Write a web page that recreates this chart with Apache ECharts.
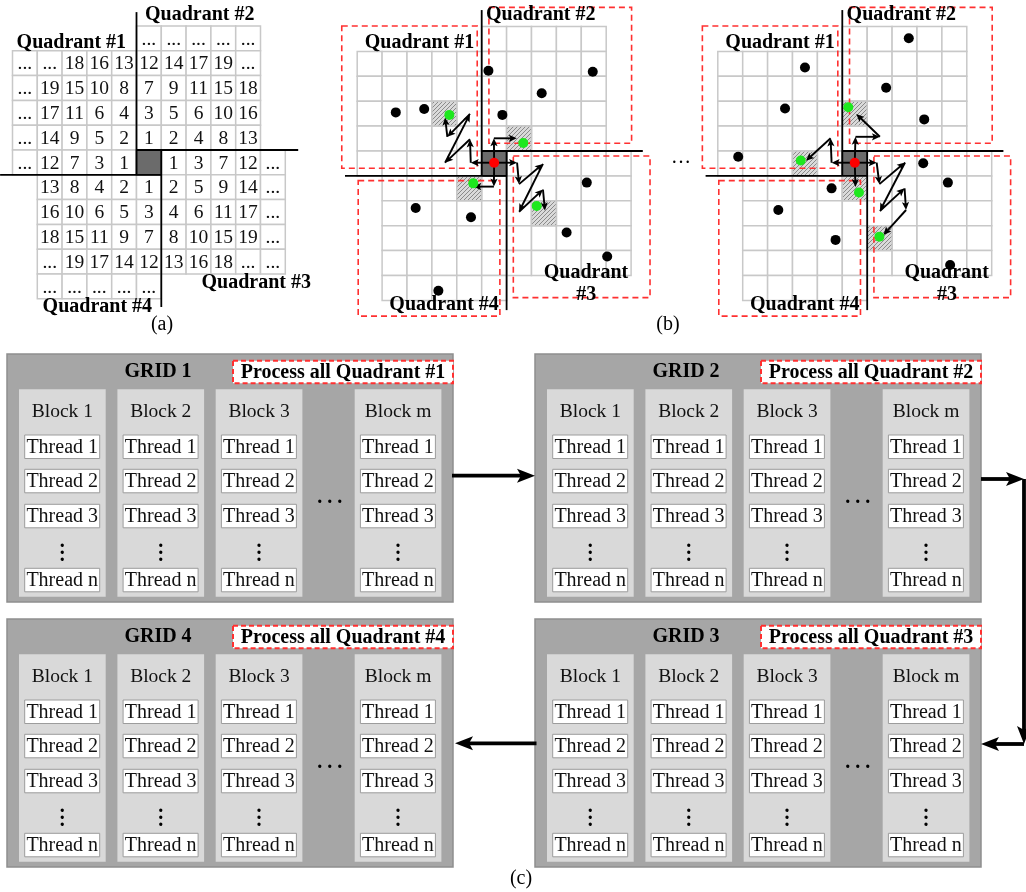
<!DOCTYPE html>
<html><head><meta charset="utf-8">
<script src="https://cdn.jsdelivr.net/npm/echarts@6/dist/echarts.min.js"></script>
<style>html,body{margin:0;padding:0;background:#fff}#c{width:1026px;height:892px}</style>
</head><body><div id="c"></div>
<script>
// ---------------- DATA ----------------
// Panel (a): visiting order numbers, [row, first column, labels]
const A_ROWS = [
  [-5, 0, ['...','...','...','...','...']],
  [-4, -5, ['...','...',18,16,13,12,14,17,19,'...']],
  [-3, -5, ['...',19,15,10,8,7,9,11,15,18]],
  [-2, -5, ['...',17,11,6,4,3,5,6,10,16]],
  [-1, -5, ['...',14,9,5,2,1,2,4,8,13]],
  [0, -5, ['...',12,7,3,1]],
  [0, 1, [1,3,7,12,'...']],
  [1, -4, [13,8,4,2,1,2,5,9,14,'...']],
  [2, -4, [16,10,6,5,3,4,6,11,17,'...']],
  [3, -4, [18,15,11,9,7,8,10,15,19,'...']],
  [4, -4, ['...',19,17,14,12,13,16,18,'...','...']],
  [5, -4, ['...','...','...','...','...']]
];
// Quadrant cell ranges (columns, rows), relative to the centre cell
const QUADRANTS = [
  {cols:[-5,-1], rows:[-4,0]},
  {cols:[0,4],   rows:[-5,-1]},
  {cols:[1,5],   rows:[0,4]},
  {cols:[-4,0],  rows:[1,5]}
];
// Panel (b) points in cell units
const B_LEFT_BLACK = [[0.27,-3.22],[4.46,-3.18],[2.41,-2.32],[0.83,-1.45],[-3.45,-1.55],[-2.31,-1.69],
  [4.22,1.27],[-2.65,2.29],[-0.43,2.66],[3.41,3.27],[5.04,4.24],[-1.74,5.61]];
const B_LEFT_GREEN = [[-1.30,-1.45],[1.67,-0.32],[-0.34,1.30],[2.21,2.21]];
const B_LEFT_HATCH = [[-2,-2],[1,-1],[-1,1],[2,2]];
const B_LEFT_PATHS = [
  [[0.5,0.47],[-0.44,0.47],[-0.47,-0.47],[-1.47,0.47],[-0.47,-1.49],[-1.38,-0.57],[-1.47,-1.35]],
  [[0.5,0.47],[0.49,-0.51],[1.41,-0.51]],
  [[0.5,0.47],[0.49,1.43],[-0.34,1.43]],
  [[0.5,0.47],[1.42,0.47],[1.5,1.33],[2.46,0.52],[1.5,2.44],[2.46,1.55],[2.54,2.39]]
];
const B_RIGHT_BLACK = [[2.67,-4.53],[-1.50,-3.35],[1.76,-2.54],[-2.30,-1.71],[3.29,-1.27],[-4.18,0.23],
  [3.25,0.49],[4.24,1.27],[-0.43,1.50],[-2.57,2.37],[-0.27,3.57],[4.33,4.58]];
const B_RIGHT_GREEN = [[0.24,-1.76],[-1.67,0.38],[0.67,1.67],[1.49,3.44]];
const B_RIGHT_HATCH = [[0,-2],[-2,0],[0,1],[1,3]];
const B_RIGHT_PATHS = [
  [[0.5,0.47],[-0.43,0.47],[-0.47,-0.51],[-1.46,0.39]],
  [[0.5,0.47],[0.53,-0.57],[1.51,-0.57],[0.56,-1.49]],
  [[0.5,0.47],[0.53,1.45]],
  [[0.5,0.47],[1.38,0.47],[1.49,1.33],[2.52,0.46],[1.51,2.41],[2.5,1.5],[2.56,2.37],[1.65,3.37]]
];
const CENTER_POINT = [[0.5,0.47]];
// Panel (c)
const GRID_NAMES = ['GRID 1','GRID 2','GRID 3','GRID 4'];
const GRID_TASKS = ['Process all Quadrant #1','Process all Quadrant #2','Process all Quadrant #3','Process all Quadrant #4'];
const BLOCKS = ['Block 1','Block 2','Block 3','Block m'];
const THREADS = ['Thread 1','Thread 2','Thread 3','Thread n'];

// ---------------- LAYOUT / STYLE ----------------
const SERIF = '"Liberation Serif","Times New Roman",serif';
const A_AXES = [[[0,-5.56],[0,1]],[[1,0],[1,6.33]],[[0,0],[6.52,0]],[[-5.5,1],[1,1]]];
const B_AXES = [[[0,-5.66],[0,1]],[[1,0],[1,6.39]],[[0,0],[6.47,0]],[[-5.49,1],[1,1]]];
const B_BOXES = [[-5.62,-5.02,-0.18,0.69],[0.29,-5.77,6.02,-0.31],[1.27,0.2,6.76,5.89],[-4.96,1.19,0.73,6.63]];
const A_LABELS = [['Quadrant #1',-0.42,-4.33,'right'],['Quadrant #2',2.55,-5.44,'center'],
  ['Quadrant #3',4.83,5.36,'center'],['Quadrant #4',-1.58,6.33,'center']];
const B_LABELS = [['Quadrant #1',-2.5,-4.36,'center'],['Quadrant #2',2.37,-5.45,'center'],
  ['Quadrant',4.19,4.89,'center'],['#3',4.2,5.78,'center'],['Quadrant #4',-1.51,6.18,'center']];
const GRID_POS = [[7,354],[535,354],[535,619],[7,619]];
const BOX_W = 446, BOX_H = 248;
const BLOCK_X = [12,110.4,208.7,347.7], BLOCK_W = 86.7, BLOCK_TOP = 35.3, BLOCK_BOT = 242.7;
const THREAD_Y = [81,115.3,150.3,214.3], THREAD_H = 23.5;
const C_FLOW = [[[452,475.7],[535,475.7]],[[981,479],[1024,479],[1024,744],[981,744]],[[536.5,743.3],[455,743.3]]];
const PAGE_TEXT = [['(a)',162,325],['(b)',668,325],['(c)',521,879]];

// hatch pattern
const hc = document.createElement('canvas'); hc.width = 4; hc.height = 4;
const hg = hc.getContext('2d'); hg.fillStyle = '#dadada'; hg.fillRect(0,0,4,4);
hg.strokeStyle = '#8a8a8a'; hg.lineWidth = 1; hg.beginPath(); hg.moveTo(-1,5); hg.lineTo(5,-1); hg.stroke();
const HATCH = {image: hc, repeat: 'repeat'};

function cellsOf(hatch){
  const list = [];
  QUADRANTS.forEach(q => { for (let r=q.rows[0]; r<=q.rows[1]; r++) for (let c=q.cols[0]; c<=q.cols[1]; c++) list.push([c,r,0]); });
  hatch.forEach(h => list.push([h[0],h[1],2]));
  list.push([0,0,1]);
  return list;
}
function cellSeries(gi, cells){
  return {type:'custom', xAxisIndex:gi, yAxisIndex:gi, silent:true, z:1,
    data: cells.map(c => [c[0], c[1]]),
    renderItem: (p, api) => {
      const c = cells[p.dataIndex];
      const a = api.coord([c[0], c[1]]), b = api.coord([c[0]+1, c[1]+1]);
      const fill = c[2]===1 ? '#6b6b6b' : (c[2]===2 ? HATCH : '#ffffff');
      return {type:'rect', z2:c[2]*10, shape:{x:a[0], y:a[1], width:b[0]-a[0], height:b[1]-a[1]},
        style:{fill:fill, stroke:c[2]===1 ? '#3c3c3c' : '#c8c8c8', lineWidth:1.5}};
    }};
}
function segSeries(gi, segs, color, width, dash, z){
  return {type:'custom', xAxisIndex:gi, yAxisIndex:gi, silent:true, z:z,
    data: segs.map((s,i) => [s[0][0], s[0][1]]),
    renderItem: (p, api) => ({type:'polyline', shape:{points: segs[p.dataIndex].map(pt => api.coord(pt))},
      style:{stroke:color, lineWidth:width, lineDash:dash, fill:null}})};
}
function boxSeries(gi, boxes){
  return {type:'custom', xAxisIndex:gi, yAxisIndex:gi, silent:true, z:2,
    data: boxes.map(b => [b[0], b[1]]),
    renderItem: (p, api) => { const b = boxes[p.dataIndex]; const a = api.coord([b[0],b[1]]), e = api.coord([b[2],b[3]]);
      return {type:'rect', shape:{x:a[0], y:a[1], width:e[0]-a[0], height:e[1]-a[1]},
        style:{fill:null, stroke:'#ff3030', lineWidth:1.6, lineDash:[6,4]}}; }};
}
function arrowParts(pts, L, W, lw, color){
  const ch = [];
  for (let i=1; i<pts.length; i++){
    const [x1,y1] = pts[i-1], [x2,y2] = pts[i];
    const dx = x2-x1, dy = y2-y1, len = Math.hypot(dx,dy) || 1, ux = dx/len, uy = dy/len;
    const bx = x2-ux*L, by = y2-uy*L;
    ch.push({type:'line', shape:{x1:x1, y1:y1, x2:bx+ux*L*0.3, y2:by+uy*L*0.3}, style:{stroke:color, lineWidth:lw}});
    ch.push({type:'polygon', shape:{points:[[x2,y2],[bx-uy*W, by+ux*W],[bx+ux*L*0.22, by+uy*L*0.22],[bx+uy*W, by-ux*W]]}, style:{fill:color}});
  }
  return ch;
}
function arrowSeries(gi, paths){
  return {type:'custom', xAxisIndex:gi, yAxisIndex:gi, silent:true, z:4,
    data: paths.map(p => [p[0][0], p[0][1]]),
    renderItem: (p, api) => ({type:'group', children: arrowParts(paths[p.dataIndex].map(pt => api.coord(pt)), 8, 3.6, 1.9, '#000')})};
}
function dotSeries(gi, pts, color){
  return {type:'scatter', xAxisIndex:gi, yAxisIndex:gi, silent:true, z:5, data:pts, symbolSize:10,
    itemStyle:{color:color, opacity:1}};
}
function labelSeries(gi, labels){
  return {type:'custom', xAxisIndex:gi, yAxisIndex:gi, silent:true, z:6,
    data: labels.map(l => [l[1], l[2]]),
    renderItem: (p, api) => { const l = labels[p.dataIndex]; const pt = api.coord([l[1], l[2]]);
      return {type:'text', style:{x:pt[0], y:pt[1], text:l[0], font:'bold 20px '+SERIF, align:l[3], verticalAlign:'middle', fill:'#000'}}; }};
}

// (a) texts
const aTexts = [];
A_ROWS.forEach(([r, c0, labels]) => labels.forEach((t, i) => aTexts.push([c0+i, r, String(t)])));

const grids = [
  {left:0.1, top:1.2, width:297.6, height:322.4},
  {left:332.3, top:1.6, width:323.7, height:323.7},
  {left:692.9, top:1.6, width:323.7, height:323.7},
  {left:0, top:0, width:1026, height:892}
];
const xr = [[-5.5,6.5],[-6,7],[-6,7],[0,1026]];
const yr = [[-6,7],[-6,7],[-6,7],[0,892]];

const series = [];
// Panel (a)
series.push(cellSeries(0, cellsOf([])));
series.push({type:'custom', xAxisIndex:0, yAxisIndex:0, silent:true, z:3,
  data: aTexts.map(t => [t[0], t[1]]),
  renderItem: (p, api) => { const t = aTexts[p.dataIndex]; const pt = api.coord([t[0]+0.5, t[1]+0.5]);
    return {type:'text', style:{x:pt[0], y:pt[1]+1, text:t[2], font:'19.5px '+SERIF, align:'center', verticalAlign:'middle', fill:'#111'}}; }});
series.push(segSeries(0, A_AXES, '#000', 1.8, null, 4));
series.push(labelSeries(0, A_LABELS));
// Panel (b) left & right
[[1, B_LEFT_HATCH, B_LEFT_PATHS, B_LEFT_BLACK, B_LEFT_GREEN],
 [2, B_RIGHT_HATCH, B_RIGHT_PATHS, B_RIGHT_BLACK, B_RIGHT_GREEN]].forEach(([gi, hatch, paths, black, green]) => {
  series.push(cellSeries(gi, cellsOf(hatch)));
  series.push(boxSeries(gi, B_BOXES));
  series.push(segSeries(gi, B_AXES, '#000', 1.8, null, 3));
  series.push(arrowSeries(gi, paths));
  series.push(dotSeries(gi, black, '#000'));
  series.push(dotSeries(gi, green, '#1ee81e'));
  series.push(dotSeries(gi, CENTER_POINT, '#ff0000'));
  series.push(labelSeries(gi, B_LABELS));
});
// Panel (c)
series.push({type:'custom', xAxisIndex:3, yAxisIndex:3, silent:true, z:2,
  data: GRID_NAMES.map((n,i) => [i, i]),
  renderItem: (p, api) => {
    const gi = p.dataIndex;
    const o = api.coord(GRID_POS[gi]);
    const X = o[0], Y = o[1];
    const ch = [];
    ch.push({type:'rect', shape:{x:X, y:Y, width:BOX_W, height:BOX_H}, style:{fill:'#a6a6a6', stroke:'#8e8e8e', lineWidth:1.5}});
    ch.push({type:'text', style:{x:X+151, y:Y+18, text:GRID_NAMES[gi], font:'bold 20px '+SERIF, align:'center', verticalAlign:'middle', fill:'#000'}});
    ch.push({type:'rect', shape:{x:X+226, y:Y+6.7, width:220, height:22.6}, style:{fill:'#ffffff', stroke:'#ff3030', lineWidth:2, lineDash:[5,3]}});
    ch.push({type:'text', style:{x:X+336, y:Y+18.5, text:GRID_TASKS[gi], font:'bold 20px '+SERIF, align:'center', verticalAlign:'middle', fill:'#000'}});
    BLOCKS.forEach((b, bi) => {
      const bx = X + BLOCK_X[bi];
      ch.push({type:'rect', shape:{x:bx, y:Y+BLOCK_TOP, width:BLOCK_W, height:BLOCK_BOT-BLOCK_TOP}, style:{fill:'#d9d9d9'}});
      ch.push({type:'text', style:{x:bx+BLOCK_W/2, y:Y+58, text:b, font:'19.5px '+SERIF, align:'center', verticalAlign:'middle', fill:'#111'}});
      THREADS.forEach((t, ti) => {
        const ty = Y + THREAD_Y[ti];
        ch.push({type:'rect', shape:{x:bx+5.7, y:ty, width:75, height:THREAD_H}, style:{fill:'#ffffff', stroke:'#9c9c9c', lineWidth:1}});
        ch.push({type:'text', style:{x:bx+5.7+37.5, y:ty+THREAD_H/2+0.5, text:t, font:'20px '+SERIF, align:'center', verticalAlign:'middle', fill:'#111'}});
      });
      ch.push({type:'text', style:{x:bx+BLOCK_W/2, y:Y+195, text:'.\n.\n.', font:'bold 20px '+SERIF, lineHeight:7, align:'center', verticalAlign:'middle', fill:'#000'}});
    });
    ch.push({type:'text', style:{x:X+322.7, y:Y+144, text:'. . .', font:'bold 20px '+SERIF, align:'center', verticalAlign:'middle', fill:'#000'}});
    return {type:'group', children:ch};
  }});
series.push({type:'custom', xAxisIndex:3, yAxisIndex:3, silent:true, z:5,
  data: C_FLOW.map(f => [f[0][0], f[0][1]]),
  renderItem: (p, api) => ({type:'group', children: arrowParts(C_FLOW[p.dataIndex].map(pt => api.coord(pt)), 18, 7, 3.8, '#000')})});
series.push({type:'custom', xAxisIndex:3, yAxisIndex:3, silent:true, z:6,
  data: PAGE_TEXT.map(t => [t[1], t[2]]).concat([[681,158]]),
  renderItem: (p, api) => {
    if (p.dataIndex === PAGE_TEXT.length){ const pt = api.coord([681,158]);
      return {type:'text', style:{x:pt[0], y:pt[1], text:'…', font:'20px '+SERIF, align:'center', verticalAlign:'middle', fill:'#000'}}; }
    const t = PAGE_TEXT[p.dataIndex]; const pt = api.coord([t[1], t[2]]);
    return {type:'text', style:{x:pt[0], y:pt[1], text:t[0], font:'20px '+SERIF, align:'center', verticalAlign:'middle', fill:'#000'}}; }});

const option = {
  animation:false, backgroundColor:'#ffffff',
  grid: grids,
  xAxis: grids.map((g,i) => ({type:'value', gridIndex:i, min:xr[i][0], max:xr[i][1], show:false})),
  yAxis: grids.map((g,i) => ({type:'value', gridIndex:i, min:yr[i][0], max:yr[i][1], inverse:true, show:false})),
  series: series
};
const chart = echarts.init(document.getElementById('c'));
chart.setOption(option);
</script></body></html>
